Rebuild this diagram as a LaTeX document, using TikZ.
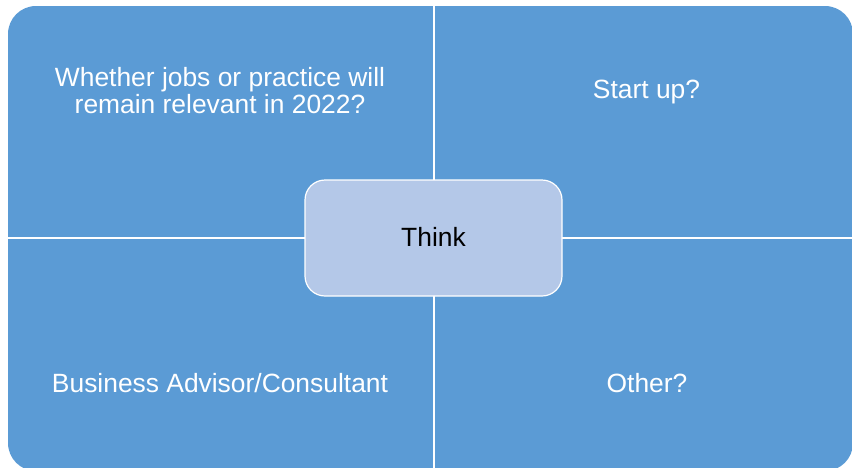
\documentclass[tikz,border=0pt]{standalone}
\usepackage{fontspec}
\setmainfont{Liberation Sans}
\definecolor{qblue}{HTML}{5B9BD5}
\definecolor{cblue}{HTML}{B4C8E8}
\tikzset{
  qtext/.style={text=white, font=\fontsize{26.4}{26.3}\selectfont, align=center, inner sep=0pt, anchor=base},
  centerbox/.style={draw=white, line width=1.2pt, fill=cblue, rounded corners=20pt, minimum width=257pt, minimum height=116pt, inner sep=0pt, font=\fontsize{26}{26.3}\selectfont, text=black},
  divider/.style={draw=white, line width=1.6pt}
}
\begin{document}
\begin{tikzpicture}[x=1pt,y=-1pt]
\useasboundingbox (0,0) rectangle (852,467);
% quadrant background
\fill[qblue, rounded corners=28pt] (8,6) rectangle (853,471);
% dividers
\coordinate (vt) at (434,0);
\coordinate (vb) at (434,471);
\coordinate (hl) at (0,238);
\coordinate (hr) at (860,238);
\draw[divider] (vt) -- (vb);
\draw[divider] (hl) -- (hr);
% quadrant texts
\node[qtext] (tl) at (220,86.7) {Whether jobs or practice will};
\node[qtext] (tl2) at (220,113) {remain relevant in 2022?};
\node[qtext] (tr) at (646.5,98.3) {Start up?};
\node[qtext] (bl) at (220,392) {Business Advisor/Consultant};
\node[qtext] (br) at (647,392) {Other?};
% center
\node[centerbox] (think) at (433.5,238) {};
\node[qtext, text=black] (thinklabel) at (433.5,246.7) {Think};
\end{tikzpicture}
\end{document}
